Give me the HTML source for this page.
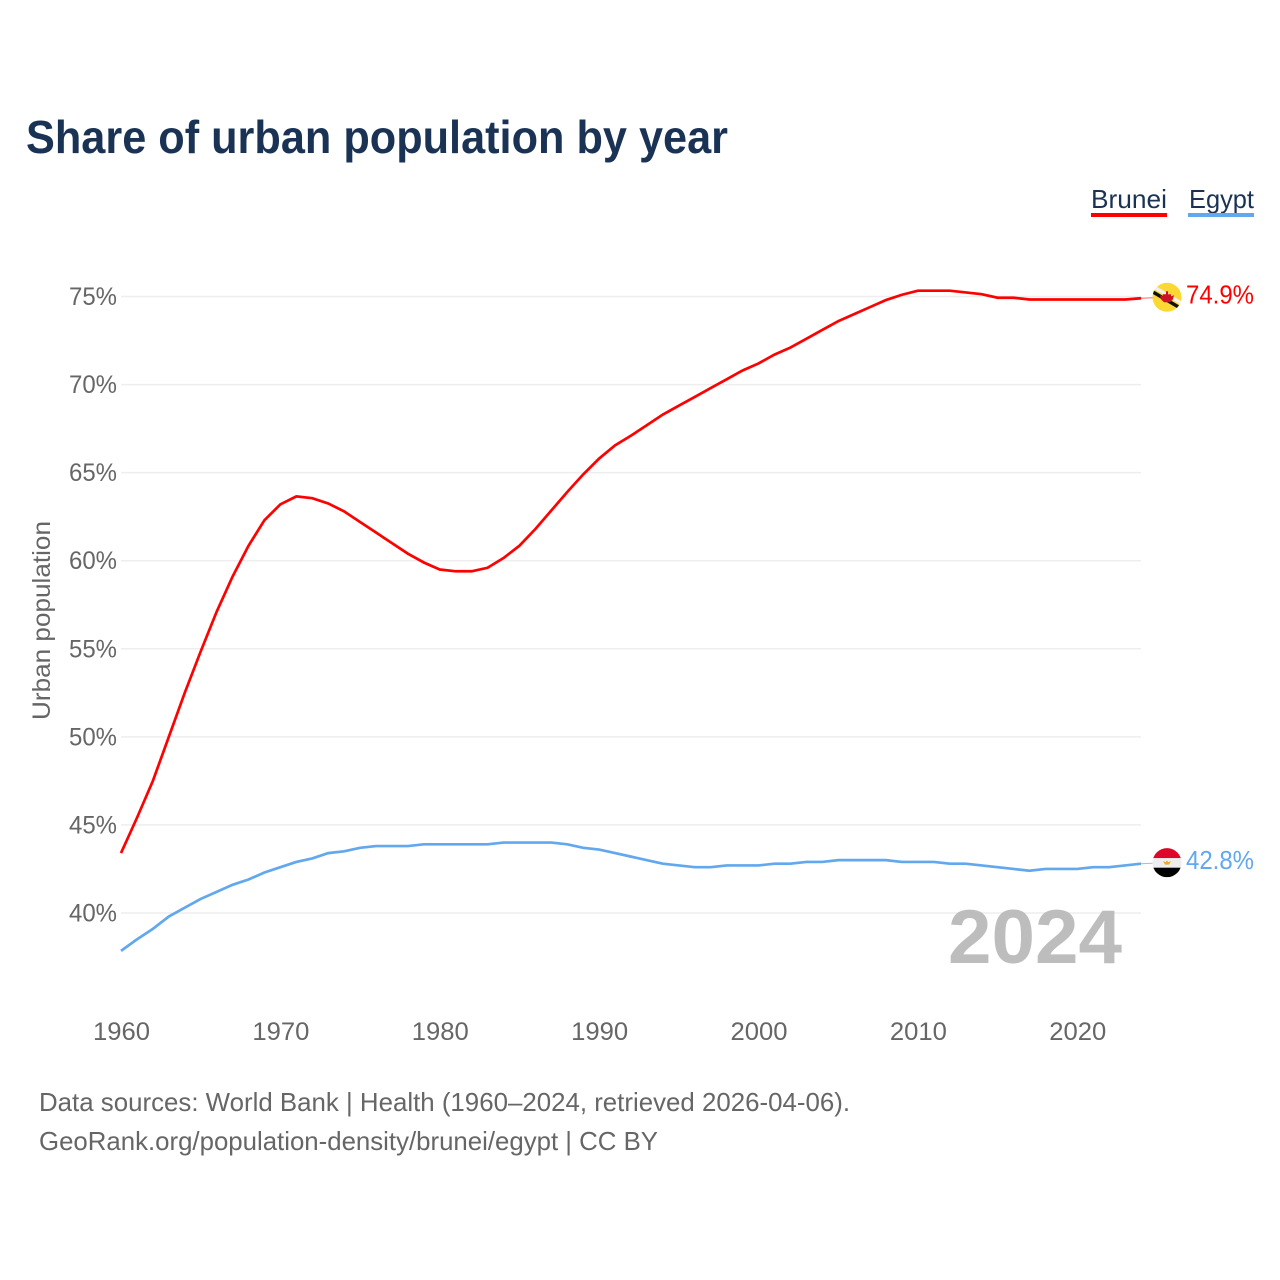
<!DOCTYPE html>
<html lang="en">
<head>
<meta charset="utf-8">
<title>Share of urban population by year</title>
<style>
html,body{margin:0;padding:0;background:#fff;width:1280px;height:1280px;overflow:hidden}
svg{display:block;font-family:"Liberation Sans",sans-serif}
</style>
</head>
<body>
<svg id="chart" width="1280" height="1280" viewBox="0 0 1280 1280" xmlns="http://www.w3.org/2000/svg">
  <defs>
    <clipPath id="clip-brunei"><circle id="clip-brunei-circle" cx="0" cy="0" r="14.5"/></clipPath>
    <clipPath id="clip-egypt"><circle id="clip-egypt-circle" cx="0" cy="0" r="14.5"/></clipPath>
  </defs>
  <text x="26" y="153" font-size="46" font-weight="700" fill="#1a3355" textLength="702" lengthAdjust="spacingAndGlyphs">Share of urban population by year</text>

  <g>
    <g>
      <text x="1091" y="208" font-size="26" fill="#1a3355" textLength="76" lengthAdjust="spacingAndGlyphs">Brunei</text>
      <rect x="1091" y="213" width="76" height="4" fill="#ff0000"/>
    </g>
    <g>
      <text x="1189" y="208" font-size="26" fill="#1a3355" textLength="65" lengthAdjust="spacingAndGlyphs">Egypt</text>
      <rect x="1188" y="213" width="66" height="4" fill="#62a8ee"/>
    </g>
  </g>

  <g id="grid"></g>
  <g id="y-ticks"></g>
  <g id="x-ticks"></g>
  <text transform="translate(50,720) rotate(-90)" font-size="25" fill="#666666" textLength="199" lengthAdjust="spacingAndGlyphs">Urban population</text>

  <text x="948" y="963" font-size="76" font-weight="700" fill="#bdbdbd" textLength="174" lengthAdjust="spacingAndGlyphs">2024</text>

  <g id="series"></g>

  <g id="flag-brunei">
    <g clip-path="url(#clip-brunei)">
      <rect x="-15" y="-15" width="30" height="30" fill="#fdd835"/>
      <polygon points="-17,-11 17,9 17,13 -17,-7" fill="#f0f0f0" transform="translate(0,-3.5)"/>
      <polygon points="-17,-9 17,11 17,15 -17,-5" fill="#111111"/>
      <path d="M-1,-6 h2 v3 h3 v2 l3,-1 l-1,4 l-3,3 h-6 l-3,-3 l-1,-4 l3,1 v-2 h3 z" fill="#ce1126"/>
    </g>
  </g>
  <g id="flag-egypt">
    <g clip-path="url(#clip-egypt)">
      <rect x="-15" y="-15" width="30" height="10.5" fill="#e0062a"/>
      <rect x="-15" y="-4.5" width="30" height="9.5" fill="#eeeeee"/>
      <rect x="-15" y="5" width="30" height="10" fill="#000000"/>
      <path d="M-4,-1.5 l2.5,1 l1.5,-1.5 l1.5,1.5 l2.5,-1 l-2,3.5 h-4 z" fill="#f5a623"/>
    </g>
  </g>
  <text id="value-brunei" x="1186" y="304" font-size="26" fill="#ff0000" textLength="68" lengthAdjust="spacingAndGlyphs">74.9%</text>
  <text id="value-egypt" x="1186" y="870" font-size="26" fill="#62a8ee" textLength="68" lengthAdjust="spacingAndGlyphs">42.8%</text>

  <text x="39" y="1111" font-size="26" fill="#666666" textLength="811" lengthAdjust="spacingAndGlyphs">Data sources: World Bank | Health (1960–2024, retrieved 2026-04-06).</text>
  <text x="39" y="1150" font-size="26" fill="#666666" textLength="619" lengthAdjust="spacingAndGlyphs">GeoRank.org/population-density/brunei/egypt | CC BY</text>
</svg>
<script>
const startYear = 1960;
const bruneiValues = [43.4,45.4,47.5,50.0,52.5,54.85,57.1,59.1,60.85,62.3,63.2,63.65,63.55,63.25,62.8,62.2,61.6,61.0,60.4,59.9,59.5,59.4,59.4,59.6,60.15,60.85,61.8,62.85,63.9,64.9,65.8,66.55,67.1,67.7,68.3,68.8,69.3,69.8,70.3,70.8,71.2,71.7,72.1,72.6,73.1,73.6,74.0,74.4,74.8,75.1,75.33,75.33,75.33,75.23,75.13,74.93,74.93,74.83,74.83,74.83,74.83,74.83,74.83,74.83,74.9];
const egyptValues = [37.85,38.5,39.1,39.8,40.3,40.8,41.2,41.6,41.9,42.3,42.6,42.9,43.1,43.4,43.5,43.7,43.8,43.8,43.8,43.9,43.9,43.9,43.9,43.9,44.0,44.0,44.0,44.0,43.9,43.7,43.6,43.4,43.2,43.0,42.8,42.7,42.6,42.6,42.7,42.7,42.7,42.8,42.8,42.9,42.9,43.0,43.0,43.0,43.0,42.9,42.9,42.9,42.8,42.8,42.7,42.6,42.5,42.4,42.5,42.5,42.5,42.6,42.6,42.7,42.8];
const yTickValues = [40,45,50,55,60,65,70,75];
const xTickValues = [1960,1970,1980,1990,2000,2010,2020];

const SVG_NS = 'http://www.w3.org/2000/svg';
function xScale(year){ return 121 + (year - 1960) * (1141 - 121) / 64; }
function yScale(value){ return 913 - (value - 40) * (913 - 296.5) / 35; }
function create(tag, parent){
  const el = document.createElementNS(SVG_NS, tag);
  parent.appendChild(el);
  return el;
}
function linePoints(values){
  return values.map(function(v, i){
    return xScale(startYear + i).toFixed(2) + ',' + yScale(v).toFixed(2);
  }).join(' ');
}

const grid = document.getElementById('grid');
const yTicks = document.getElementById('y-ticks');
yTickValues.forEach(function(v){
  const line = create('line', grid);
  
  
  line.setAttribute('x1', xScale(1960));
  line.setAttribute('x2', xScale(2024));
  line.setAttribute('y1', yScale(v));
  line.setAttribute('y2', yScale(v));
  line.setAttribute('stroke', '#eeeeee');
  line.setAttribute('stroke-width', '1.5');
  const label = create('text', yTicks);
  
  
  label.setAttribute('x', 69);
  label.setAttribute('y', yScale(v) + 8.5);
  label.setAttribute('textLength', '48');
  label.setAttribute('lengthAdjust', 'spacingAndGlyphs');
  label.setAttribute('font-size', '25');
  label.setAttribute('fill', '#666666');
  label.textContent = v + '%';
});

const xTicks = document.getElementById('x-ticks');
xTickValues.forEach(function(y){
  const label = create('text', xTicks);
  
  
  label.setAttribute('x', xScale(y) - 28);
  label.setAttribute('y', 1040);
  label.setAttribute('textLength', '57');
  label.setAttribute('lengthAdjust', 'spacingAndGlyphs');
  label.setAttribute('font-size', '25');
  label.setAttribute('fill', '#666666');
  label.textContent = y;
});

const series = document.getElementById('series');
const flagX = 1167;

const egyptLine = create('polyline', series);


egyptLine.setAttribute('points', linePoints(egyptValues));
egyptLine.setAttribute('fill', 'none');
egyptLine.setAttribute('stroke', '#62a8ee');
egyptLine.setAttribute('stroke-width', '2.7');

const bruneiLine = create('polyline', series);


bruneiLine.setAttribute('points', linePoints(bruneiValues));
bruneiLine.setAttribute('fill', 'none');
bruneiLine.setAttribute('stroke', '#ff0000');
bruneiLine.setAttribute('stroke-width', '2.7');

const bruneiLast = yScale(bruneiValues[bruneiValues.length - 1]);
const egyptLast = yScale(egyptValues[egyptValues.length - 1]);

const bruneiConnector = create('line', series);


bruneiConnector.setAttribute('x1', xScale(2024));
bruneiConnector.setAttribute('x2', flagX);
bruneiConnector.setAttribute('y1', bruneiLast);
bruneiConnector.setAttribute('y2', bruneiLast - 1);
bruneiConnector.setAttribute('stroke', '#ff0000');
bruneiConnector.setAttribute('stroke-width', '1');
bruneiConnector.setAttribute('stroke-opacity', '0.6');

const egyptConnector = create('line', series);


egyptConnector.setAttribute('x1', xScale(2024));
egyptConnector.setAttribute('x2', flagX);
egyptConnector.setAttribute('y1', egyptLast);
egyptConnector.setAttribute('y2', egyptLast - 1);
egyptConnector.setAttribute('stroke', '#62a8ee');
egyptConnector.setAttribute('stroke-width', '1');
egyptConnector.setAttribute('stroke-opacity', '0.7');

document.getElementById('flag-brunei').setAttribute('transform', 'translate(' + flagX + ',' + (bruneiLast - 1) + ')');
document.getElementById('flag-egypt').setAttribute('transform', 'translate(' + flagX + ',' + (egyptLast - 1) + ')');
document.getElementById('value-brunei').setAttribute('y', bruneiLast + 5);
document.getElementById('value-egypt').setAttribute('y', egyptLast + 5.5);
document.getElementById('value-brunei').textContent = bruneiValues[bruneiValues.length - 1].toFixed(1) + '%';
document.getElementById('value-egypt').textContent = egyptValues[egyptValues.length - 1].toFixed(1) + '%';
</script>
</body>
</html>
